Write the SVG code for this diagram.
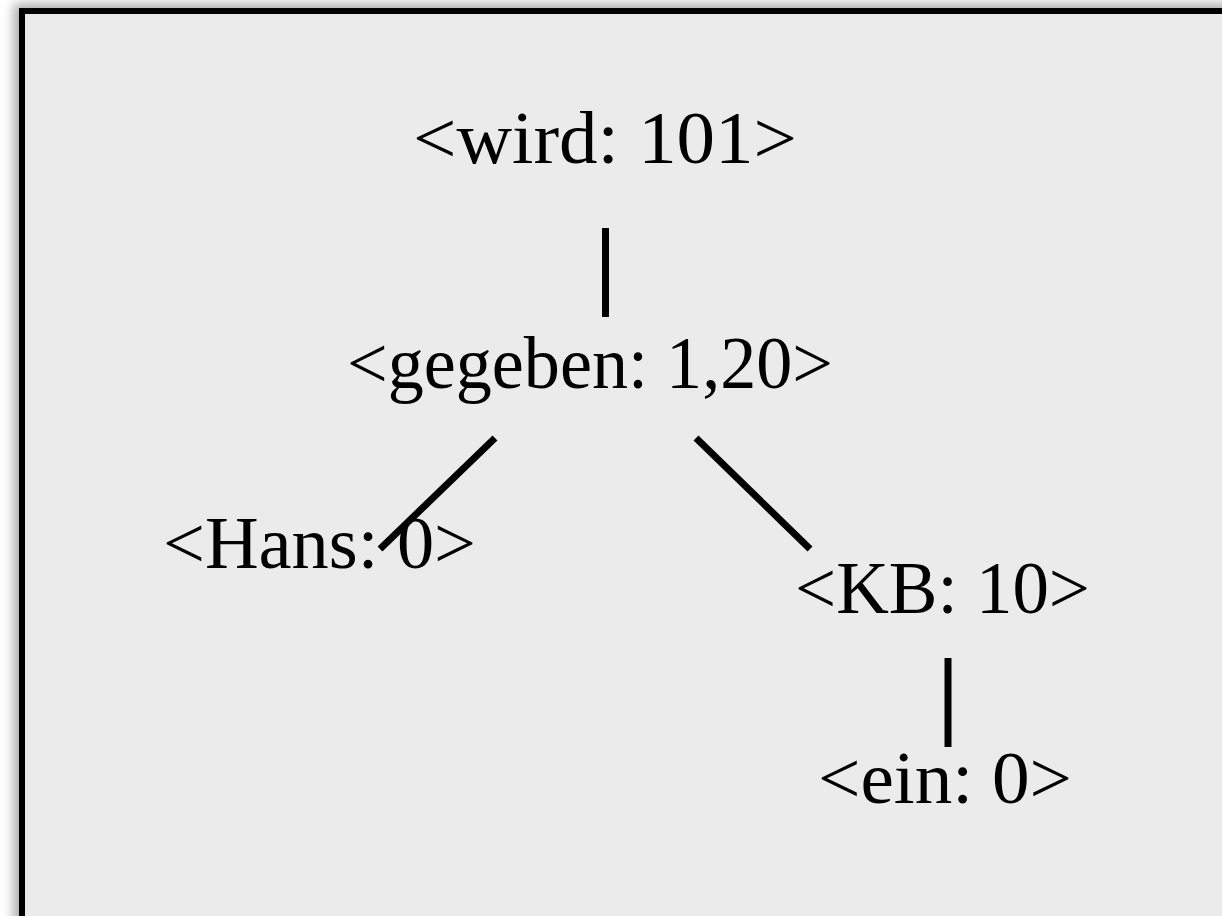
<svg xmlns="http://www.w3.org/2000/svg" width="1222" height="916" viewBox="0 0 1222 916">
<defs>
<filter id="sh" x="-10%" y="-10%" width="120%" height="120%"><feGaussianBlur stdDeviation="6"/></filter>
<style>
.t{font-family:"Liberation Serif","Times New Roman",serif;font-size:74px;fill:#000;text-anchor:start}
.c{stroke:#000;stroke-width:7;stroke-linecap:butt;fill:none}
</style>
</defs>
<rect x="0" y="0" width="1222" height="916" fill="#ffffff"/>
<rect x="14" y="4" width="1260" height="960" fill="#000" opacity="0.35" filter="url(#sh)"/>
<rect x="22" y="11" width="1240" height="940" fill="#ebebeb" stroke="#000" stroke-width="6"/>
<g id="connectors">
<line class="c" x1="605.5" y1="228" x2="605.5" y2="317"/>
<line class="c" x1="495" y1="438" x2="380" y2="549"/>
<line class="c" x1="696" y1="438" x2="810" y2="549"/>
<line class="c" x1="948" y1="658" x2="948" y2="747"/>
</g>
<g id="n-wird"><text class="t" x="413" y="163" textLength="384" lengthAdjust="spacingAndGlyphs">&lt;wird: 101&gt;</text></g>
<g id="n-gegeben"><text class="t" x="347" y="388" textLength="486" lengthAdjust="spacingAndGlyphs">&lt;gegeben: 1,20&gt;</text></g>
<g id="n-hans"><text class="t" x="163" y="568" textLength="313" lengthAdjust="spacingAndGlyphs">&lt;Hans: 0&gt;</text></g>
<g id="n-kb"><text class="t" x="795" y="613" textLength="295" lengthAdjust="spacingAndGlyphs">&lt;KB: 10&gt;</text></g>
<g id="n-ein"><text class="t" x="818" y="803" textLength="254" lengthAdjust="spacingAndGlyphs">&lt;ein: 0&gt;</text></g>
</svg>
